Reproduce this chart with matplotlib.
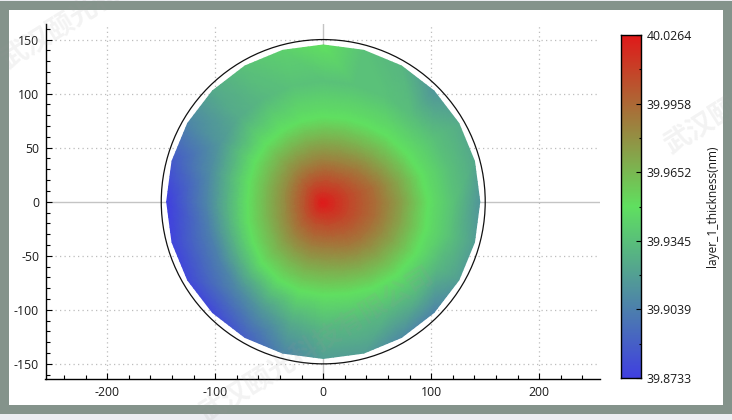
import numpy as np
import matplotlib
matplotlib.use('Agg')
import matplotlib.pyplot as plt
from matplotlib.colors import LinearSegmentedColormap
from matplotlib.patches import Rectangle, Circle
from matplotlib.ticker import MultipleLocator
from matplotlib.tri import Triangulation, UniformTriRefiner, LinearTriInterpolator

plt.rcParams['font.family'] = ['Open Sans', 'DejaVu Sans']
plt.rcParams['axes.unicode_minus'] = False

W, H = 732, 420

# Wafer map: 24 spokes, every 15 degrees counter-clockwise from +x
angles_deg = [0, 15, 30, 45, 60, 75, 90, 105, 120, 135, 150, 165,
              180, 195, 210, 225, 240, 255, 270, 285, 300, 315, 330, 345]
ridge_radius = [97, 94, 89, 85, 81, 79, 78, 77, 76, 75, 73, 71,
                70, 72, 75, 80, 83, 85, 86, 88, 92, 96, 98, 98]
edge_radius = [145] * 24

center_point = (-1.0, -1.0)
center_value = 40.0264
inner_25 = [40.009, 40.009, 40.008, 40.007, 40.006, 40.006, 40.006, 40.005,
            40.005, 40.005, 40.004, 40.004, 40.004, 40.004, 40.004, 40.005,
            40.005, 40.006, 40.006, 40.007, 40.007, 40.008, 40.009, 40.009]
inner_50 = [39.994, 39.994, 39.991, 39.989, 39.987, 39.986, 39.986, 39.985,
            39.985, 39.984, 39.983, 39.983, 39.983, 39.983, 39.984, 39.985,
            39.986, 39.987, 39.987, 39.988, 39.990, 39.991, 39.992, 39.994]
inner_75 = [39.974, 39.973, 39.971, 39.969, 39.968, 39.968, 39.968, 39.968,
            39.967, 39.967, 39.966, 39.966, 39.966, 39.966, 39.966, 39.967,
            39.967, 39.968, 39.968, 39.969, 39.970, 39.971, 39.972, 39.973]
ridge_value = [39.950] * 24
outer_mid = [39.935, 39.935, 39.935, 39.933, 39.935, 39.935, 39.935, 39.935,
             39.931, 39.925, 39.916, 39.910, 39.907, 39.904, 39.905, 39.909,
             39.916, 39.925, 39.931, 39.931, 39.930, 39.931, 39.931, 39.935]
edge_value = [39.915, 39.924, 39.925, 39.915, 39.930, 39.935, 39.950, 39.942,
              39.935, 39.924, 39.907, 39.886, 39.873, 39.876, 39.878, 39.878,
              39.889, 39.907, 39.919, 39.919, 39.910, 39.907, 39.919, 39.919]

color_min = 39.8733
color_max = 40.0264
colorbar_major = [39.8733, 39.9039, 39.9345, 39.9652, 39.9958, 40.0264]
colorbar_labels = ['39.8733', '39.9039', '39.9345', '39.9652', '39.9958', '40.0264']
colorbar_minor = [39.8886, 39.9192, 39.9498, 39.9805, 40.0111]
colorbar_title = 'layer_1_thickness(nm)'
watermark = '武汉颐光科技有限公司'

cmap = LinearSegmentedColormap.from_list(
    'wafer', [(0.0, '#4040e0'), (0.5, '#60e060'), (1.0, '#e01a1a')], N=512)


def px_axes(fig, left, top, right, bottom):
    return fig.add_axes([left / W, 1 - bottom / H, (right - left) / W, (bottom - top) / H])


fig = plt.figure(figsize=(W / 100, H / 100), dpi=100, facecolor='#ecedf2')

# window frame
fig.add_artist(Rectangle((0, 1 - 414 / H), 1, 413 / H, transform=fig.transFigure,
                         facecolor='#84938b', edgecolor='none', zorder=-10))
fig.add_artist(Rectangle((9 / W, 1 - 405 / H), 714 / W, 395 / H, transform=fig.transFigure,
                         facecolor='white', edgecolor='none', zorder=-9))

ax = px_axes(fig, 45.5, 24, 600, 379)
ax.patch.set_alpha(0)
ax.set_xlim(-257.2, 256.3)
ax.set_ylim(-164.0, 164.4)

a = np.deg2rad(np.array(angles_deg, dtype=float))
ridge = np.array(ridge_radius, dtype=float)
edge = np.array(edge_radius, dtype=float)
radii = [0.25 * ridge, 0.5 * ridge, 0.75 * ridge, ridge, 0.5 * (ridge + edge), edge]
rows = [inner_25, inner_50, inner_75, ridge_value, outer_mid, edge_value]
xs = np.concatenate([[center_point[0]]] + [r * np.cos(a) for r in radii])
ys = np.concatenate([[center_point[1]]] + [r * np.sin(a) for r in radii])
zs = np.concatenate([[center_value]] + [np.array(v) for v in rows])
tri = Triangulation(xs, ys)
fine_tri, fine_z = UniformTriRefiner(tri).refine_field(
    zs, triinterpolator=LinearTriInterpolator(tri, zs), subdiv=3)
ax.tripcolor(fine_tri, fine_z, shading='gouraud', cmap=cmap, vmin=color_min, vmax=color_max, zorder=3)

ax.axhline(0, color='#c4c4c4', lw=1.0, zorder=1)
ax.axvline(0, color='#c4c4c4', lw=1.0, zorder=1)
ax.add_patch(Circle((0, 0), 150, fill=False, edgecolor='#111111', lw=0.9, zorder=4))

ax.set_xticks([-200, -100, 0, 100, 200])
ax.set_yticks([-150, -100, -50, 0, 50, 100, 150])
ax.xaxis.set_minor_locator(MultipleLocator(20))
ax.yaxis.set_minor_locator(MultipleLocator(10))
for v in [-200, -100, 100, 200]:
    ax.axvline(v, color='#bdbdbd', lw=0.9, ls=(0, (1, 2.6)), zorder=1)
for v in [-150, -100, -50, 50, 100, 150]:
    ax.axhline(v, color='#bdbdbd', lw=0.9, ls=(0, (1, 2.6)), zorder=1)

for s in ['top', 'right']:
    ax.spines[s].set_visible(False)
for s in ['left', 'bottom']:
    ax.spines[s].set_linewidth(1.0)
    ax.spines[s].set_color('black')
ax.tick_params(which='major', direction='in', length=4.4, width=0.8, labelsize=8.8,
               labelcolor='#1a1a1a')
ax.tick_params(axis='x', which='major', pad=5)
ax.tick_params(axis='y', which='major', pad=4.6)
ax.tick_params(which='minor', direction='in', length=2.8, width=0.8)

cax = px_axes(fig, 620.5, 35, 640.5, 378)
grad = np.linspace(color_min, color_max, 400).reshape(-1, 1)
cax.imshow(grad, origin='lower', aspect='auto', cmap=cmap, vmin=color_min, vmax=color_max,
           extent=[0, 1, color_min, color_max])
cax.set_xticks([])
cax.yaxis.tick_right()
cax.set_yticks(colorbar_major)
cax.set_yticklabels(colorbar_labels)
cax.set_yticks(colorbar_minor, minor=True)
cax.tick_params(which='major', direction='in', length=3.8, width=0.8, labelsize=8.8,
                labelcolor='#1a1a1a', pad=4.5, right=True, left=False)
cax.tick_params(which='minor', direction='in', length=1.6, width=0.8, right=True, left=False)
for s in cax.spines.values():
    s.set_linewidth(1.0)
fig.text(713 / W, 1 - 206 / H, colorbar_title, rotation=90, ha='center', va='center',
         fontsize=8.6, color='#1a1a1a')

# faint company watermarks
for x, y in [(3, 63), (666, 148), (201.5, 417)]:
    fig.text(x / W, 1 - y / H, watermark, rotation=32, rotation_mode='anchor', ha='left', va='center',
             fontsize=19.5, fontweight='bold', color='#9a9a9a', alpha=0.12, zorder=20,
             family=['Noto Sans CJK SC', 'DejaVu Sans'])

fig.savefig('out.png', dpi=100)
